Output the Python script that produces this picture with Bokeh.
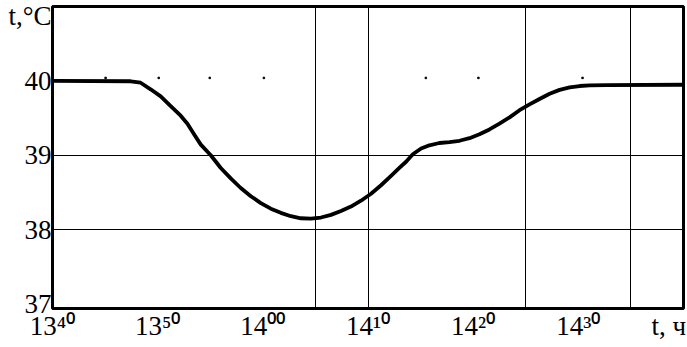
from bokeh.plotting import figure
from bokeh.models import FixedTicker, Range1d
from bokeh.embed import file_html
from bokeh.resources import INLINE

# minutes after 13:40
time_min = [0, 7.43, 8.38, 9.33, 10.29, 11.24, 12.19, 12.83, 13.46, 14.10, 15.05,
            16.0, 16.95, 17.90, 18.86, 19.81, 20.76, 21.71, 22.67, 23.62, 24.57,
            25.52, 26.48, 27.43, 28.38, 29.33, 30.29, 31.24, 32.19, 32.98, 33.62,
            34.26, 35.05, 35.84, 36.79, 37.74, 38.70, 39.65, 40.6, 41.55, 42.5,
            43.46, 44.41, 45.36, 46.31, 47.27, 48.22, 49.17, 50.12, 51.08, 52.67, 60]
temp_c = [40.0, 39.995, 39.975, 39.887, 39.792, 39.662, 39.532, 39.425, 39.282, 39.143, 39.0,
          38.829, 38.690, 38.560, 38.449, 38.357, 38.282, 38.226, 38.181, 38.153, 38.149,
          38.163, 38.199, 38.25, 38.310, 38.389, 38.482, 38.597, 38.722, 38.829, 38.913,
          39.013, 39.091, 39.134, 39.165, 39.178, 39.195, 39.23, 39.282, 39.347, 39.425,
          39.51, 39.606, 39.684, 39.757, 39.827, 39.879, 39.913, 39.931, 39.939, 39.944, 39.948]

x_ticks = [0, 10, 20, 30, 40, 50, 58.6]
x_labels = ["13\u2074\u2070", "13\u2075\u2070", "14\u2070\u2070",
            "14\u00b9\u2070", "14\u00b2\u2070", "14\u00b3\u2070", "t, \u0447"]
y_ticks = [37, 38, 39, 40, 40.91]
y_labels = ["37", "38", "39", "40", "t,\u00b0C"]
grid_x = [25, 30, 45, 55]
grid_y = [38, 39]
dots_t = [5.05, 10.1, 14.95, 20.1, 35.5, 40.5, 50.4]
dots_T = [40.04, 40.04, 40.04, 40.04, 40.04, 40.04, 40.04]

FONT = "Liberation Serif"

p = figure(width=687, height=346, output_backend="svg", toolbar_location=None,
           x_range=Range1d(0, 60), y_range=Range1d(36.94, 41.0),
           min_border_left=52, min_border_right=4, min_border_top=6,
           min_border_bottom=38)
p.outline_line_color = "black"
p.outline_line_width = 3
p.outline_line_alpha = 1.0
p.background_fill_color = "white"
p.border_fill_color = "white"

for ax in (p.xaxis, p.yaxis):
    ax.axis_line_color = None
    ax.major_tick_line_color = None
    ax.minor_tick_line_color = None
    ax.major_tick_out = 0
    ax.major_tick_in = 0
    ax.minor_tick_out = 0
    ax.minor_tick_in = 0
    ax.major_label_text_font = FONT
    ax.major_label_text_font_size = "27px"
    ax.major_label_text_color = "black"

p.xaxis.ticker = FixedTicker(ticks=x_ticks)
p.xaxis.major_label_overrides = {t: l for t, l in zip(x_ticks, x_labels)}
p.xaxis.major_label_standoff = 2
p.yaxis.ticker = FixedTicker(ticks=y_ticks)
p.yaxis.major_label_overrides = {t: l for t, l in zip(y_ticks, y_labels)}
p.yaxis.major_label_standoff = 1

p.xgrid.ticker = FixedTicker(ticks=grid_x)
p.ygrid.ticker = FixedTicker(ticks=grid_y)
for g in (p.xgrid, p.ygrid):
    g.grid_line_color = "black"
    g.grid_line_width = 1
    g.grid_line_alpha = 1.0

p.scatter(dots_t, dots_T, marker="square", size=1.5, color="black")
p.line(time_min, temp_c, line_width=3.8, color="black", line_join="round")

open("out.html", "w").write(file_html(p, INLINE))
